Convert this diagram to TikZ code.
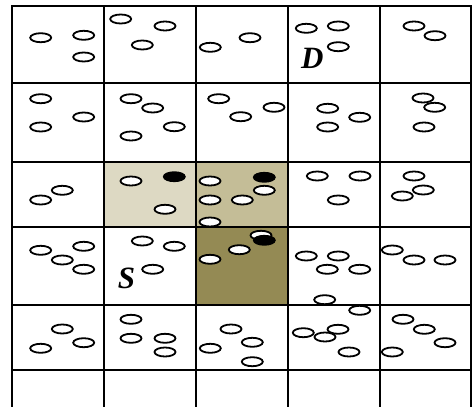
\documentclass[tikz,border=0pt]{standalone}
\usepackage{fontspec}
\setmainfont{Liberation Serif}
\usetikzlibrary{positioning}
\definecolor{tanlight}{HTML}{DDD9C3}
\definecolor{tanmid}{HTML}{C4BD97}
\definecolor{tandark}{HTML}{948A54}

\begin{document}
\begin{tikzpicture}[x=1pt,y=-1pt,
	host/.style={draw=black,fill=white,line width=1.8pt},
	busy/.style={draw=black,fill=black,line width=1.8pt},
	tag/.style={font=\fontsize{31}{31}\selectfont\bfseries\itshape,inner sep=0pt}]
			\useasboundingbox (0,0) rectangle (474,407);
			% shaded cells
			\fill[tanlight] (104,162) rectangle (196,227);
			\fill[tanmid] (196,162) rectangle (288,227);
			\fill[tandark] (196,227) rectangle (288,305);
			
			\begin{scope}[line width=2.2pt,line cap=rect]
			\foreach \x in {12,104,196,288,380,471}
			\draw (\x,6) -- (\x,407);
			\foreach \y in {6,83,162,227,305,370}
			\draw (12,\y) -- (471,\y);
			\end{scope}
			
			% row 1 and 2
			\foreach \x/\y in {40.7/37.7,83.7/35.3,83.7/57,120.7/19,165/26,142.3/45,
				210.3/47.3,250/37.7,306.3/28.3,338.3/26,338.3/46.7,414/26,435/35.7,
				40.7/98.7,40.7/127,83.7/117,131/98.7,152.7/108,174.3/126.7,131/136,
				218.7/98.7,240.7/116.7,274/107.3,327.7/108.3,327.7/127,359.7/117.3,
				423/98,434.7/107.3,424/127}
			\draw[host] (\x,\y) ellipse (10.5 and 4.5);
			
			% row 3 and 4
			\foreach \x/\y in {40.7/200,62.3/190.3,131/181,165/209.3,
				210/181,210/200,242.3/200,210/222,264.3/190.3,
				317.3/176,360/176,338.3/200,414/176,423.3/190,402.3/196,
				40.7/250.3,62.3/260,83.7/246.3,83.7/269.3,
				142.3/241,174.3/246.3,152.7/269.3,210/259.3,239.3/249.7,261/235.3,
				306.3/256,338.3/256,327.3/269.3,359.7/269.3,324.7/299.7,
				392.3/250,414/260,445/260}
			\draw[host] (\x,\y) ellipse (10.5 and 4.5);
			
			% row 5
			\foreach \x/\y in {62.3/329,40.7/348.3,83.7/342.7,
				131/319.3,131/338.3,165/338.3,165/352,
				210.3/348.3,231/329,252.3/342.3,252.3/361.7,
				359.7/310.3,303.3/332.7,325/337,338/329.3,349/352,
				403/319.3,424.3/329.3,445/342.7,392.3/352}
			\draw[host] (\x,\y) ellipse (10.5 and 4.5);
			
			\foreach \x/\y in {174.3/176.7,264.3/177.3,264.3/240.3}
			\draw[busy] (\x,\y) ellipse (10.5 and 4.5);
			
			\node[tag] (dest) at (312.3,58.5) {D};
			\node[tag] (src) at (126.5,278.3) {S};
\end{tikzpicture}
\end{document}
